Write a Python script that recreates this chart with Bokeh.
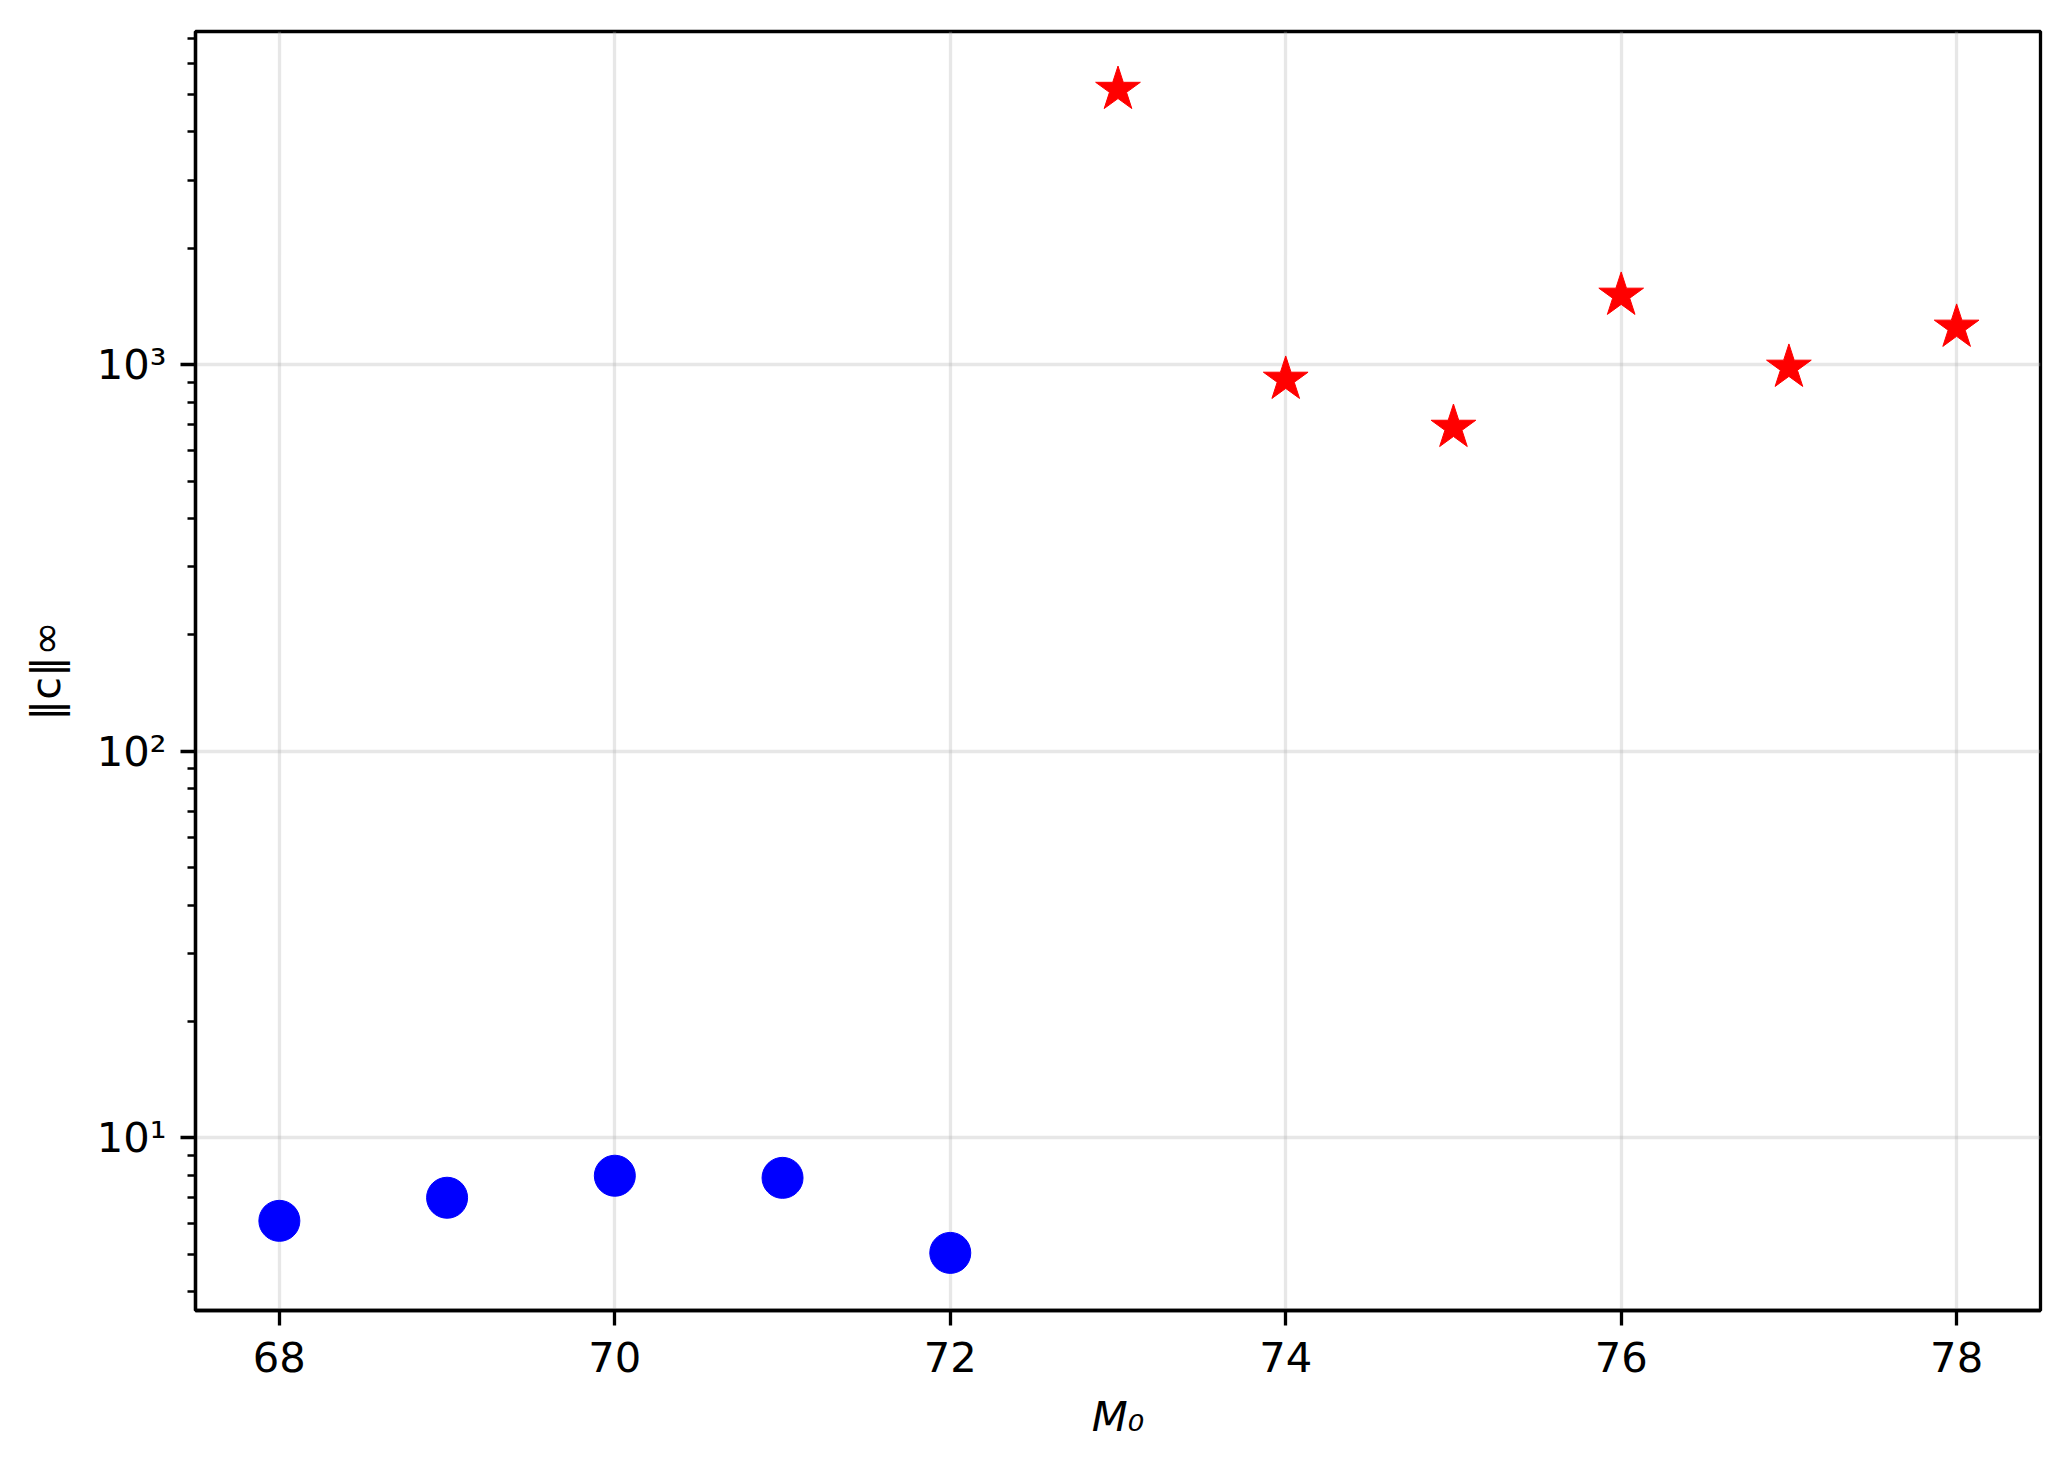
from bokeh.plotting import figure
from bokeh.models import FixedTicker, Range1d
from bokeh.embed import file_html
from bokeh.resources import INLINE

# data
m0_stable = [68, 69, 70, 71, 72]
cnorm_stable = [6.10, 7.00, 7.98, 7.88, 5.04]
m0_unstable = [73, 74, 75, 76, 77, 78]
cnorm_unstable = [5150, 916, 688, 1511, 984, 1249]

x_ticks = [68, 70, 72, 74, 76, 78]
y_major = [10, 100, 1000]
y_minor = [4, 5, 6, 7, 8, 9, 20, 30, 40, 50, 60, 70, 80, 90,
           200, 300, 400, 500, 600, 700, 800, 900,
           2000, 3000, 4000, 5000, 6000, 7000]
y_tick_labels = {10: "10\u00b9", 100: "10\u00b2", 1000: "10\u00b3"}
x_label = "M\u2080"
y_label = "\u2016c\u2016\u221e"

FONT = "DejaVu Sans"
FS = "41.7px"

# layout (pixels)
L, T, FW, FH = 195, 31, 1845, 1279
X0, X1 = 67.5, 78.5
LY0, LY1 = 0.5534, 3.862

p = figure(
    frame_width=FW, frame_height=FH,
    min_border_left=L, min_border_top=T, min_border_right=14, min_border_bottom=140,
    y_axis_type="log",
    x_range=Range1d(X0, X1), y_range=Range1d(10 ** LY0, 10 ** LY1),
    output_backend="svg", toolbar_location=None,
    background_fill_color="white", border_fill_color="white",
)

p.outline_line_color = "black"
p.outline_line_width = 3.3
p.outline_line_alpha = 1.0

for g in (p.xgrid, p.ygrid):
    g.grid_line_color = "#b0b0b0"
    g.grid_line_alpha = 0.3
    g.grid_line_width = 3.3

xa = p.xaxis[0]
xa.ticker = FixedTicker(ticks=x_ticks)
ya = p.yaxis[0]
ya.ticker = FixedTicker(ticks=y_major, minor_ticks=y_minor)
ya.major_label_overrides = y_tick_labels

for ax in (xa, ya):
    ax.axis_line_width = 3.3
    ax.axis_line_color = "black"
    ax.major_tick_line_width = 3.3
    ax.major_tick_out = 15
    ax.major_tick_in = 0
    ax.minor_tick_line_width = 2.5
    ax.minor_tick_out = 8
    ax.minor_tick_in = 0
    ax.major_label_text_font = FONT
    ax.major_label_text_font_size = FS
    ax.major_label_text_color = "black"
    ax.axis_label_text_font = FONT
    ax.axis_label_text_font_size = FS
    ax.axis_label_text_color = "black"

xa.minor_tick_line_color = None
xa.major_label_standoff = 16
xa.axis_label = x_label
xa.axis_label_text_font_style = "italic"
xa.axis_label_standoff = 17

ya.major_label_standoff = 14
ya.axis_label = y_label
ya.axis_label_text_font_style = "normal"
ya.axis_label_standoff = 24

p.scatter(m0_stable, cnorm_stable, marker="circle", size=41,
          fill_color="#0000ff", line_color="#0000ff")
p.scatter(m0_unstable, cnorm_unstable, marker="star", size=47,
          fill_color="#ff0000", line_color="#ff0000")

open("out.html", "w").write(file_html(p, INLINE))
